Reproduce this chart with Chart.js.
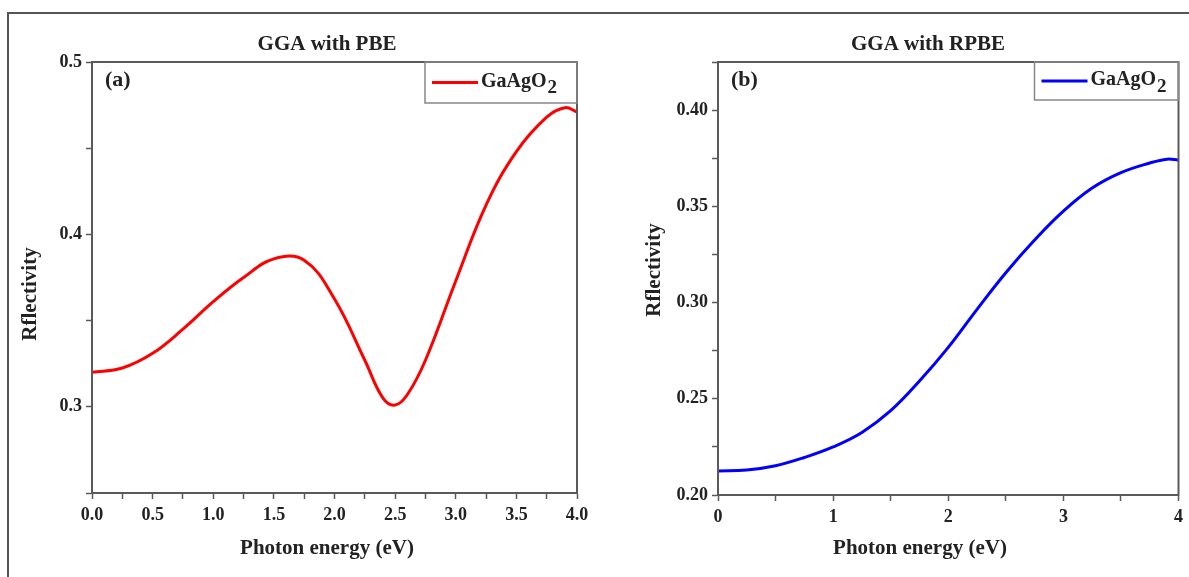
<!DOCTYPE html>
<html>
<head>
<meta charset="utf-8">
<script src="https://cdn.jsdelivr.net/npm/chart.js@4.4.1/dist/chart.umd.min.js"></script>
<style>
  body { margin: 0; background: #fff; }
  #wrap { position: relative; width: 1189px; height: 577px; overflow: hidden; }
  #frame { position: absolute; left: 7px; top: 12px; width: 1200px; height: 600px;
           border-left: 2px solid #555; border-top: 2px solid #555; }
  canvas { position: absolute; top: 0; }
  #chartA { left: 0; }
  #chartB { left: 600px; }
</style>
</head>
<body>
<div id="wrap">
  <div id="frame"></div>
  <canvas id="chartA" width="600" height="577"></canvas>
  <canvas id="chartB" width="589" height="577"></canvas>
</div>
<script>
// (a) GGA with PBE
const energyA = [0, 0.25, 0.5, 0.75, 1.0, 1.25, 1.5, 1.75, 2.0, 2.25, 2.4, 2.5, 2.6, 2.75, 3.0, 3.25, 3.5, 3.75, 3.9, 4.0];
const reflA   = [0.320, 0.3225, 0.331, 0.345, 0.361, 0.375, 0.3858, 0.385, 0.3625, 0.327, 0.305, 0.301, 0.307, 0.327, 0.373, 0.417, 0.448, 0.468, 0.4735, 0.471];

// (b) GGA with RPBE
const energyB = [0, 0.25, 0.5, 0.75, 1.0, 1.25, 1.5, 1.75, 2.0, 2.25, 2.5, 2.75, 3.0, 3.25, 3.5, 3.75, 3.9, 4.0];
const reflB   = [0.2125, 0.213, 0.2152, 0.2195, 0.225, 0.2325, 0.2438, 0.2592, 0.2767, 0.2965, 0.3155, 0.3325, 0.3475, 0.3595, 0.3675, 0.3725, 0.3745, 0.374];

const seriesName = "GaAgO";
const serif = "'Liberation Serif', 'Times New Roman', serif";
const axisColor = "#5a5a5a";
const textColor = "#222";

// texte, cadre et légende dessinés par-dessus le graphique
const decorPlugin = {
  id: "decor",
  afterDatasetsDraw(chart, args, opts) {
    const ctx = chart.ctx;
    const a = chart.chartArea;
    ctx.save();
    ctx.strokeStyle = axisColor;
    ctx.lineWidth = 2;
    ctx.strokeRect(a.left, a.top, a.right - a.left, a.bottom - a.top);

    ctx.fillStyle = textColor;
    ctx.textAlign = "center";
    ctx.textBaseline = "middle";
    ctx.font = "bold 21px " + serif;
    ctx.fillText(opts.title, opts.titleX, 45);
    ctx.fillText("Photon energy (eV)", opts.xTitleX, 549);

    ctx.save();
    ctx.translate(opts.yTitleX, opts.yTitleY);
    ctx.rotate(-Math.PI / 2);
    ctx.fillText("Rflectivity", 0, 0);
    ctx.restore();

    ctx.textAlign = "left";
    ctx.font = "bold 22px " + serif;
    ctx.fillText(opts.panel, a.left + 13, a.top + 18);

    // légende
    const lw = opts.legendW, lh = opts.legendH;
    const lx = a.right - lw, ly = a.top;
    ctx.strokeStyle = "#888";
    ctx.lineWidth = 1.5;
    ctx.strokeRect(lx, ly, lw, lh);
    const cy = ly + lh / 2;
    ctx.strokeStyle = opts.color;
    ctx.lineWidth = 3;
    ctx.beginPath();
    ctx.moveTo(lx + 7, cy);
    ctx.lineTo(lx + 53, cy);
    ctx.stroke();
    ctx.fillStyle = textColor;
    ctx.font = "bold 20px " + serif;
    ctx.fillText(seriesName, lx + 56, cy - 1);
    const w = ctx.measureText(seriesName).width;
    ctx.font = "bold 19px " + serif;
    ctx.fillText("2", lx + 56 + w + 1, cy + 6);
    ctx.restore();
  }
};

function isMajor(v, step) {
  const r = v / step;
  return Math.abs(r - Math.round(r)) < 1e-6;
}

function makeChart(id, xs, ys, color, s) {
  const data = xs.map((x, i) => ({ x: x, y: ys[i] }));
  return new Chart(document.getElementById(id), {
    type: "scatter",
    data: {
      datasets: [{
        label: seriesName + "2",
        data: data,
        showLine: true,
        borderColor: color,
        backgroundColor: color,
        borderWidth: 3,
        pointRadius: 0,
        tension: 0.4
      }]
    },
    options: {
      responsive: false,
      animation: false,
      devicePixelRatio: 1,
      layout: { padding: s.padding },
      plugins: {
        legend: { display: false },
        tooltip: { enabled: false },
        decor: s.decor
      },
      scales: {
        x: {
          type: "linear",
          min: 0, max: 4,
          afterFit: (sc) => { sc.height = s.xHeight; },
          border: { display: true, color: axisColor, width: 2 },
          grid: { drawOnChartArea: false, tickLength: 6, color: axisColor, tickWidth: 1.5 },
          ticks: {
            stepSize: s.xStep,
            autoSkip: false,
            maxRotation: 0,
            padding: 6,
            color: textColor,
            font: { family: serif, size: 18, weight: "bold" },
            callback: (v) => isMajor(v, s.xMajor) ? v.toFixed(s.xDec) : ""
          }
        },
        y: {
          type: "linear",
          min: s.yMin, max: s.yMax,
          afterFit: (sc) => { sc.width = s.yWidth; },
          border: { display: true, color: axisColor, width: 2 },
          grid: { drawOnChartArea: false, tickLength: 6, color: axisColor, tickWidth: 1.5 },
          ticks: {
            stepSize: s.yStep,
            autoSkip: false,
            padding: 4,
            color: textColor,
            font: { family: serif, size: 18, weight: "bold" },
            callback: (v) => isMajor(v, s.yMajor) ? v.toFixed(s.yDec) : ""
          }
        }
      }
    },
    plugins: [decorPlugin]
  });
}

makeChart("chartA", energyA, reflA, "#ff0000", {
  padding: { left: 20, right: 23, top: 62, bottom: 16 },
  xHeight: 68, yWidth: 72,
  xStep: 0.25, xMajor: 0.5, xDec: 1,
  yMin: 0.25, yMax: 0.5, yStep: 0.05, yMajor: 0.1, yDec: 1,
  decor: { title: "GGA with PBE", titleX: 327, xTitleX: 327, yTitleX: 31, yTitleY: 294,
           panel: "(a)", color: "#ff0000", legendW: 152, legendH: 41 }
});

makeChart("chartB", energyB, reflB, "#0000ff", {
  padding: { left: 44, right: 6, top: 62, bottom: 16 },
  xHeight: 66, yWidth: 74,
  xStep: 0.5, xMajor: 1, xDec: 0,
  yMin: 0.2, yMax: 0.425, yStep: 0.025, yMajor: 0.05, yDec: 2,
  decor: { title: "GGA with RPBE", titleX: 328, xTitleX: 320, yTitleX: 55, yTitleY: 270,
           panel: "(b)", color: "#0000ff", legendW: 144, legendH: 38 }
});
</script>
</body>
</html>
